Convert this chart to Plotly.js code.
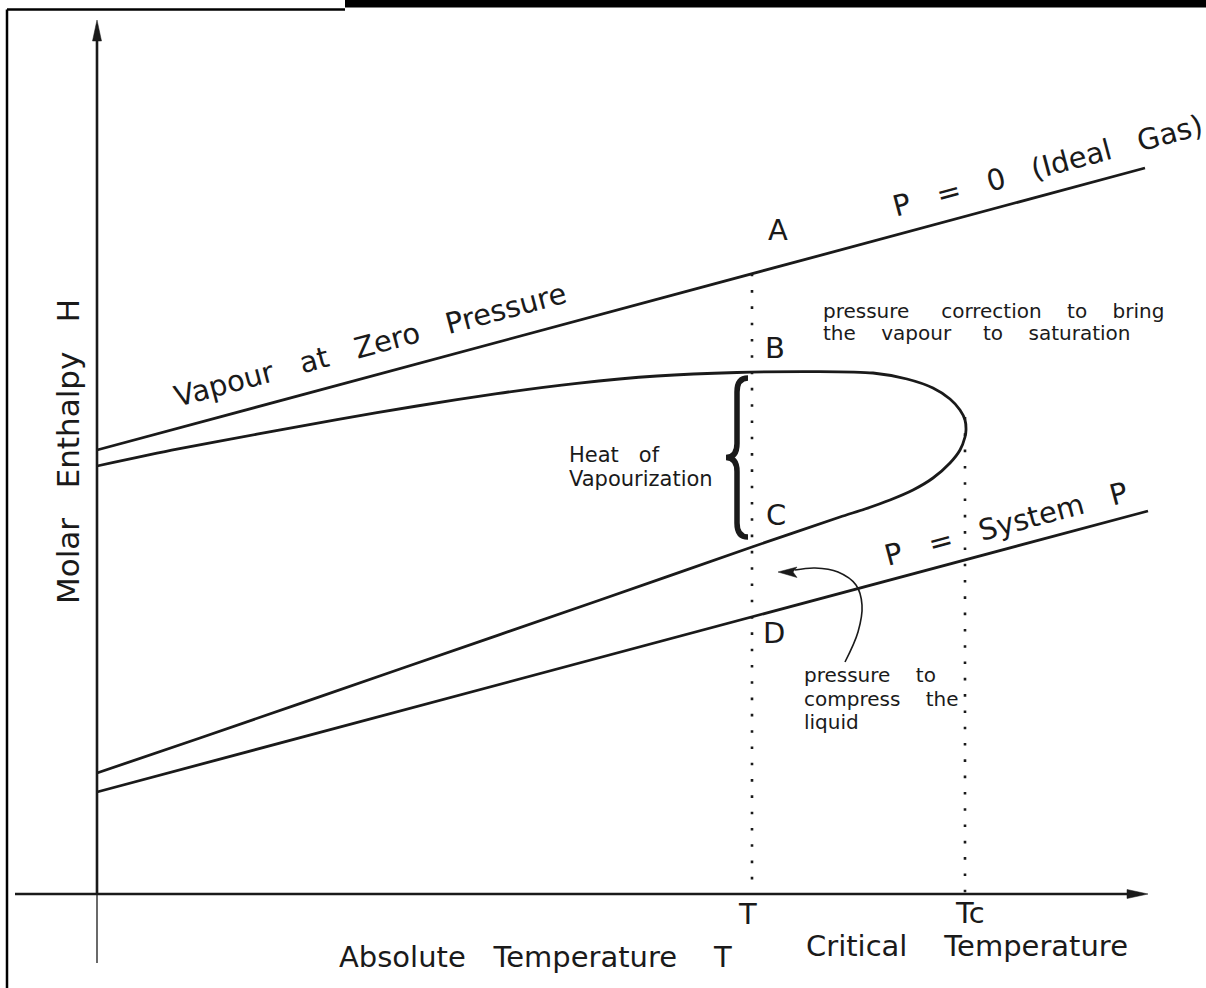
<!DOCTYPE html>
<html><head><meta charset="utf-8">
<script src="https://cdn.plot.ly/plotly-3.0.1.min.js"></script>
<style>html,body{margin:0;padding:0;background:#fff;overflow:hidden}#chart{width:1206px;height:988px}</style>
</head><body><div id="chart"></div>
<script>
// Diagram units: T = absolute temperature, H = molar enthalpy (arbitrary schematic scale)
const T_SAT = 655;    // temperature "T"
const T_CRIT = 868;   // critical temperature "Tc"

// P = 0 (ideal gas) line
const idealGasT = [0, 1048];
const idealGasH = [444, 726];

// P = system pressure line
const systemPT = [0, 1051];
const systemPH = [102, 383];

// Saturation envelope: saturated vapour (upper), critical nose, saturated liquid (lower)
const saturationT = [0, 80, 160, 240, 320, 400, 480, 560, 640, 720, 776, 810, 836, 853, 863, 868, 869, 868, 863, 853, 836, 816, 793, 768, 743, 655, 503, 303, 103, 0];
const saturationH = [428, 444.8, 459.8, 474.4, 488, 500.4, 510.7, 518, 521.5, 522.4, 521, 515, 506, 495, 484, 474, 464, 457, 444, 431, 416, 404, 394, 385, 377, 347, 294, 225, 156, 121];

// Heat of vaporization brace span (C .. B)
const vaporizationSpanH = [357, 516];

// "pressure to compress the liquid" curved arrow
const compressArrowT = [748, 761, 765, 759, 741, 718, 698];
const compressArrowH = [232, 262, 289, 309, 322, 326, 324];
const compressArrowTipT = 681, compressArrowTipH = 322;

// Axes extents
const axisT = [-82, 1051];
const axisH = [-69, 874];

const INK = '#1a1a1a';
const FONT = 'DejaVu Sans, Liberation Sans, sans-serif';
const sp = n => '\u00a0'.repeat(n);

function lineAt(ts, hs, t) { return hs[0] + (hs[1] - hs[0]) * (t - ts[0]) / (ts[1] - ts[0]); }

const traces = [
  {x: idealGasT, y: idealGasH, mode: 'lines', line: {color: INK, width: 2.8}},
  {x: systemPT, y: systemPH, mode: 'lines', line: {color: INK, width: 2.8}},
  {x: saturationT, y: saturationH, mode: 'lines', line: {color: INK, width: 2.8, shape: 'spline', smoothing: 0.7}},
  // dotted verticals
  {x: [T_SAT, T_SAT], y: [lineAt(idealGasT, idealGasH, T_SAT), 0], mode: 'lines', line: {color: INK, width: 2.6, dash: '2.6px,13.7px'}},
  {x: [T_CRIT, T_CRIT], y: [477, 0], mode: 'lines', line: {color: INK, width: 2.6, dash: '2.6px,13.7px'}},
  // axes
  {x: [axisT[0], axisT[1] - 15], y: [0, 0], mode: 'lines', line: {color: INK, width: 2.6}},
  {x: [0, 0], y: [0, axisH[1] - 15], mode: 'lines', line: {color: INK, width: 2.6}},
  {x: [0, 0], y: [axisH[0], 0], mode: 'lines', line: {color: INK, width: 1.3}},
  // curved arrow body
  {x: compressArrowT, y: compressArrowH, mode: 'lines', line: {color: INK, width: 1.6, shape: 'spline', smoothing: 1}}
];

// brace path (data coords)
const bTop = vaporizationSpanH[1], bBot = vaporizationSpanH[0], bMid = (bTop + bBot) / 2;
const xr = T_SAT - 4, xs = T_SAT - 15, xl = T_SAT - 26, r = 14;
const bracePath = `M${xr},${bTop} Q${xs},${bTop} ${xs},${bTop - r} L${xs},${bMid + r} Q${xs},${bMid} ${xl},${bMid} Q${xs},${bMid} ${xs},${bMid - r} L${xs},${bBot + r} Q${xs},${bBot} ${xr},${bBot}`;

const xTip = axisT[1], yTip = axisH[1];
const shapes = [
  {type: 'path', xref: 'x', yref: 'y', path: bracePath, line: {color: INK, width: 5.5}},
  {type: 'path', xref: 'x', yref: 'y', path: `M${xTip},0 L${xTip - 21},4.5 L${xTip - 21},-4.5 Z`, fillcolor: INK, line: {color: INK, width: 0.5}},
  {type: 'path', xref: 'x', yref: 'y', path: `M0,${yTip} L4.5,${yTip - 21} L-4.5,${yTip - 21} Z`, fillcolor: INK, line: {color: INK, width: 0.5}},
  {type: 'path', xref: 'x', yref: 'y', path: `M${compressArrowTipT},${compressArrowTipH} L${compressArrowTipT + 19},${compressArrowTipH + 5} L${compressArrowTipT + 15},${compressArrowTipH} L${compressArrowTipT + 19},${compressArrowTipH - 5.5} Z`, fillcolor: INK, line: {color: INK, width: 0.5}},
  // page frame
  {type: 'rect', xref: 'paper', yref: 'paper', x0: 345 / 1206, x1: 1.01, y0: 1 - 7.5 / 988, y1: 1.01, fillcolor: '#000', line: {width: 0}},
  {type: 'line', xref: 'paper', yref: 'paper', x0: 7 / 1206, x1: 345 / 1206, y0: 1 - 9.5 / 988, y1: 1 - 9.5 / 988, line: {color: '#000', width: 2.5}},
  {type: 'line', xref: 'paper', yref: 'paper', x0: 7 / 1206, x1: 7 / 1206, y0: 1 - 9.5 / 988, y1: -0.01, line: {color: '#000', width: 2.5}}
];

function label(x, y, text, size, extra) {
  return Object.assign({x: x, y: y, xref: 'x', yref: 'y', text: text, showarrow: false,
    font: {family: FONT, size: size, color: INK}, xanchor: 'center', yanchor: 'middle'}, extra || {});
}
const BIG = 29, SMALL = 20;
const annotations = [
  label(-29, 442, 'Molar' + sp(3) + 'Enthalpy' + sp(3) + 'H', 31, {textangle: -90}),
  label(950, 728, 'P' + sp(3) + '=' + sp(3) + '0' + sp(3) + '(Ideal' + sp(3) + 'Gas)', BIG, {textangle: -15}),
  label(273, 549, 'Vapour' + sp(3) + 'at' + sp(3) + 'Zero' + sp(3) + 'Pressure', BIG, {textangle: -15}),
  label(909, 370, 'P' + sp(3) + '=' + sp(3) + 'System' + sp(3) + 'P', BIG, {textangle: -15}),
  label(681, 664, 'A', BIG),
  label(678, 546, 'B', BIG),
  label(679, 379, 'C', BIG),
  label(677, 261, 'D', BIG),
  label(650, -20, 'T', BIG),
  label(873, -19, 'Tc', BIG),
  label(438, -63, 'Absolute' + sp(3) + 'Temperature' + sp(4) + 'T', BIG),
  label(870, -52, 'Critical' + sp(4) + 'Temperature', BIG),
  label(724, 583, 'pressure' + sp(5) + 'correction' + sp(4) + 'to' + sp(4) + 'bring', SMALL, {xanchor: 'left'}),
  label(724, 561, 'the' + sp(4) + 'vapour' + sp(5) + 'to' + sp(4) + 'saturation', SMALL, {xanchor: 'left'}),
  label(470, 439, 'Heat' + sp(3) + 'of', 21, {xanchor: 'left'}),
  label(470, 415, 'Vapourization', 21, {xanchor: 'left'}),
  label(705, 219, 'pressure' + sp(4) + 'to', SMALL, {xanchor: 'left'}),
  label(705, 195, 'compress' + sp(4) + 'the', SMALL, {xanchor: 'left'}),
  label(705, 172, 'liquid', SMALL, {xanchor: 'left'})
];

const layout = {
  width: 1206, height: 988,
  margin: {l: 0, r: 0, t: 0, b: 0},
  paper_bgcolor: '#fff', plot_bgcolor: '#fff',
  showlegend: false,
  xaxis: {range: [-97, 1109], visible: false, fixedrange: true},
  yaxis: {range: [-94, 894], visible: false, fixedrange: true},
  shapes: shapes,
  annotations: annotations
};

Plotly.newPlot('chart', traces, layout, {staticPlot: true});
</script></body></html>
